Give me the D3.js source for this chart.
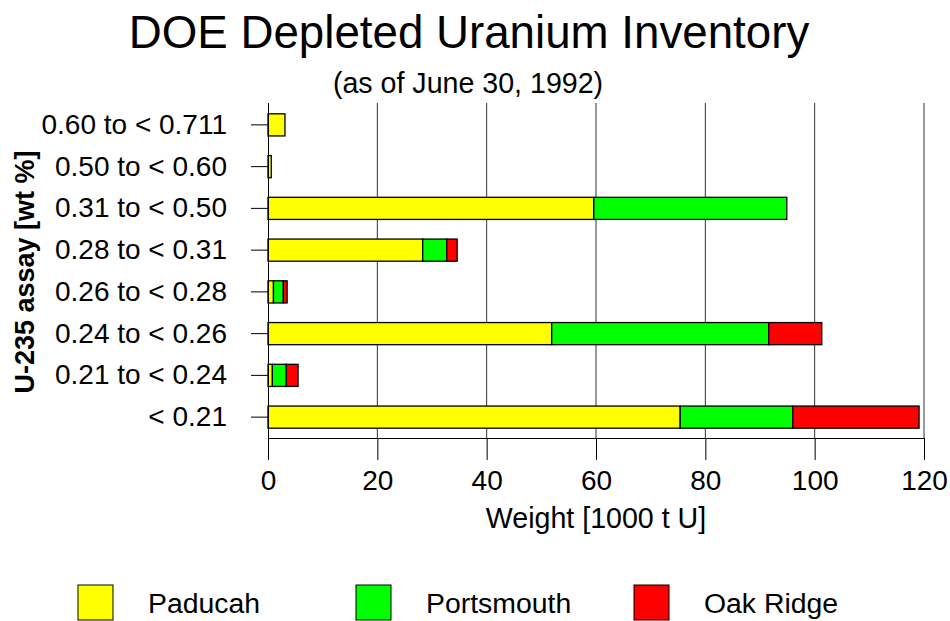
<!DOCTYPE html>
<html>
<head>
<meta charset="utf-8">
<script src="https://cdn.jsdelivr.net/npm/d3@7"></script>
<style>
  body { margin: 0; background: #fff; }
  text { font-family: "Liberation Sans", Arial, sans-serif; fill: #000; }
</style>
</head>
<body>
<svg id="chart"></svg>
<script>
// categories top to bottom
const assays = ["0.60 to < 0.711", "0.50 to < 0.60", "0.31 to < 0.50", "0.28 to < 0.31",
  "0.26 to < 0.28", "0.24 to < 0.26", "0.21 to < 0.24", "< 0.21"];

// weights in 1000 t U
const paducah    = [3.1, 0.6, 59.6, 28.3, 1.0, 51.9, 0.8, 75.4];
const portsmouth = [0.0, 0.0, 35.3, 4.4, 1.8, 39.7, 2.55, 20.6];
const oakRidge   = [0.0, 0.0, 0.0, 1.9, 0.7, 9.7, 2.15, 23.1];

const sites = ["Paducah", "Portsmouth", "Oak Ridge"];
const siteColors = ["#ffff00", "#00ff00", "#ff0000"];
const xTicks = [0, 20, 40, 60, 80, 100, 120];

const width = 950, height = 621;
const margin = {top: 104, right: 26, bottom: 183, left: 268};
const plotW = width - margin.left - margin.right,
  plotH = height - margin.top - margin.bottom;

const svg = d3.select("#chart")
  .attr("width", width)
  .attr("height", height);

// build stacked rows
const rows = assays.map(function (a, i) {
  return {assay: a, "Paducah": paducah[i], "Portsmouth": portsmouth[i], "Oak Ridge": oakRidge[i]};
});
const stacked = d3.stack().keys(sites)(rows);

const x = d3.scaleLinear().domain([0, 120]).range([0, plotW]);
const y = d3.scaleBand().domain(assays).range([0, plotH]).paddingInner(0.47).paddingOuter(0.235);

const g = svg.append("g")
  .attr("transform", "translate(" + margin.left + "," + margin.top + ")");

// vertical grid lines
g.append("g")
  .selectAll("line")
  .data(xTicks.slice(1))
  .join("line")
  .attr("x1", d => x(d)).attr("x2", d => x(d))
  .attr("y1", -1).attr("y2", plotH)
  .attr("stroke", "#333")
  .attr("stroke-width", 1);

// bars
g.append("g")
  .selectAll("g")
  .data(stacked)
  .join("g")
  .attr("fill", (d, i) => siteColors[i])
  .selectAll("rect")
  .data(d => d.filter(s => s[1] - s[0] > 0))
  .join("rect")
  .attr("x", d => x(d[0]))
  .attr("width", d => x(d[1]) - x(d[0]))
  .attr("y", d => y(d.data.assay))
  .attr("height", y.bandwidth())
  .attr("stroke", "#000")
  .attr("stroke-width", 1.3);

// x axis
const xAxis = g.append("g")
  .attr("transform", "translate(0," + plotH + ")")
  .call(d3.axisBottom(x).tickValues(xTicks).tickSize(22).tickPadding(10).tickFormat(d3.format("d")));
xAxis.selectAll("text").style("font-size", "28px");
xAxis.selectAll("line, path").attr("stroke", "#000");
xAxis.select(".domain").attr("d", "M0,0.5H" + plotW);

// y axis
const yAxis = g.append("g")
  .call(d3.axisLeft(y).tickSize(17).tickPadding(24));
yAxis.selectAll("text").style("font-size", "28px");
yAxis.selectAll("line, path").attr("stroke", "#000");
yAxis.select(".domain").attr("d", "M0.5,-1V" + plotH);

// titles
svg.append("text")
  .attr("x", 469).attr("y", 48)
  .attr("text-anchor", "middle")
  .style("font-size", "45.7px")
  .text("DOE Depleted Uranium Inventory");

svg.append("text")
  .attr("x", 468).attr("y", 93)
  .attr("text-anchor", "middle")
  .style("font-size", "28.6px")
  .text("(as of June 30, 1992)");

svg.append("text")
  .attr("x", margin.left + plotW / 2).attr("y", 528)
  .attr("text-anchor", "middle")
  .style("font-size", "28.6px")
  .text("Weight [1000 t U]");

svg.append("text")
  .attr("transform", "translate(34," + (margin.top + plotH / 2 + 1) + ") rotate(-90)")
  .attr("text-anchor", "middle")
  .style("font-size", "27px")
  .style("font-weight", "bold")
  .text("U-235 assay [wt %]");

// legend
const legend = svg.append("g")
  .selectAll("g")
  .data(sites)
  .join("g")
  .attr("transform", (d, i) => "translate(" + (78 + i * 278) + ",585)");

legend.append("rect")
  .attr("width", 35).attr("height", 35)
  .attr("fill", (d, i) => siteColors[i])
  .attr("stroke", "#000")
  .attr("stroke-width", 1);

legend.append("text")
  .attr("x", 70).attr("y", 28)
  .style("font-size", "28.4px")
  .text(d => d);
</script>
</body>
</html>
